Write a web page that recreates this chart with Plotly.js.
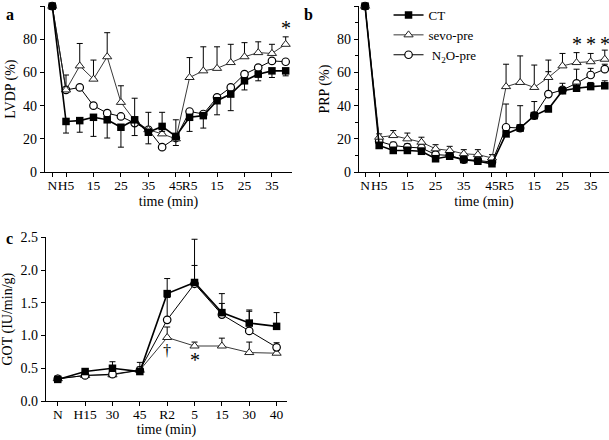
<!DOCTYPE html>
<html>
<head>
<meta charset="utf-8">
<script src="https://cdn.plot.ly/plotly-3.0.1.min.js"></script>
<style>
  html, body { margin: 0; padding: 0; background: #fff; }
  #plot { width: 609px; height: 440px; }
</style>
</head>
<body>
<div id="plot"></div>
<script>
// ---- data ----
// panels a and b: N, H5..H45, R5..R40 (one point every 5 min)
var timeIdx = [0, 1, 2, 3, 4, 5, 6, 7, 8, 9, 10, 11, 12, 13, 14, 15, 16, 17];
var tickPosAB = [0, 1, 3, 5, 7, 9, 10, 12, 14, 16];
var tickTextAB = ['N', 'H5', '15', '25', '35', '45', 'R5', '15', '25', '35'];

// a: LVDP (%)
var ctA = [100, 30.5, 31, 33, 31.5, 27, 31.5, 24, 27.5, 21.5, 33, 34, 43, 47, 55, 59, 61, 61];
var ctAErrDown = [0, 7, 7, 11.5, 11, 12, 9.5, 7, 3, 5.5, 8.5, 7.5, 8.5, 10, 5.5, 4, 4, 3];
var sevoA = [100, 49.5, 64, 56, 69.5, 42, 31, 25.5, 23, 20, 57, 61, 62.5, 66, 69.5, 72, 71.5, 77];
var sevoAErrUp = [0, 9, 13.5, 11.5, 14.5, 10, 13.5, 10.5, 13, 11.5, 12, 14.5, 13, 11, 8.5, 6.5, 5.5, 4.5];
var n2oA = [100, 49.5, 51, 40, 35.5, 33.5, 29.5, 25.5, 15, 20.5, 36.5, 35, 45, 51, 59, 63, 67, 66.5];

// b: PRP (%)
var ctB = [100, 16, 13, 13, 12.5, 8, 9.5, 7.5, 6.5, 5, 23, 26.5, 34, 38, 49, 50.5, 51.5, 52];
var ctBErrUp = [0, 2, 2, 2, 2, 2, 2, 2, 2, 2, 2, 2, 2, 2, 2, 2.5, 2.5, 3];
var sevoB = [100, 21, 22, 20, 18, 14, 13, 11, 10.5, 8.5, 51.5, 54, 51, 57, 64, 66, 66.5, 68];
var sevoBErrUp = [0, 2, 3, 3.5, 3, 2.5, 2.5, 2.5, 3, 2, 13.5, 16, 13.5, 10.5, 7.5, 6, 5, 5.5];
var n2oB = [100, 18.5, 16, 15, 14.5, 10.5, 10, 7.5, 7, 6, 27, 26.5, 34, 47, 49.5, 53.5, 58.5, 62];
var n2oBErrUp = [0, 2, 2, 2, 2, 2, 2, 2, 2, 2, 14, 13.5, 8.5, 13.5, 4, 8.5, 4, 3];

// c: GOT (IU/min/g)
var timeIdxC = [0, 1, 2, 3, 4, 5, 6, 7, 8];
var tickTextC = ['N', 'H15', '30', '45', 'R2', '5', '15', '30', '40'];
var ctC = [0.33, 0.45, 0.50, 0.45, 1.64, 1.81, 1.35, 1.19, 1.14];
var ctCErr = [0.03, 0.04, 0.10, 0.14, 0.23, 0.26, 0.29, 0.20, 0.21];
var sevoC = [0.34, 0.39, 0.40, 0.47, 0.97, 0.84, 0.84, 0.74, 0.73];
var sevoCErr = [0.02, 0.02, 0.03, 0.03, 0.16, 0.06, 0.12, 0.16, 0.05];
var n2oC = [0.34, 0.39, 0.41, 0.47, 1.24, 1.79, 1.32, 1.07, 0.82];
var n2oCErr = [0.02, 0.02, 0.03, 0.05, 0.34, 0.68, 0.17, 0.30, 0.07];

var FONT = 'Liberation Serif';

// styles for the three groups
function ctStyle() {
  return {mode: 'lines+markers', line: {color: '#000', width: 1.6},
          marker: {symbol: 'square', size: 7.5, color: '#000'}};
}
function sevoStyle() {
  return {mode: 'lines+markers', line: {color: '#222', width: 0.9},
          marker: {symbol: 'triangle-up', size: 8, color: '#fff', line: {color: '#222', width: 1}}};
}
function n2oStyle() {
  return {mode: 'lines+markers', line: {color: '#000', width: 1},
          marker: {symbol: 'circle', size: 7.5, color: '#fff', line: {color: '#000', width: 1.2}}};
}
function errBar(up, down) {
  return {type: 'data', symmetric: false, array: up, arrayminus: down,
          color: '#000', thickness: 1, width: 3};
}
function zeros(n) { var z = []; for (var i = 0; i < n; i++) z.push(0); return z; }

function mk(base, extra) {
  var t = Object.assign({}, base);
  for (var k in extra) t[k] = extra[k];
  t.cliponaxis = false;
  return t;
}

var data = [
  // panel a
  mk(n2oStyle(), {x: timeIdx, y: n2oA, xaxis: 'x', yaxis: 'y', showlegend: false}),
  mk(sevoStyle(), {x: timeIdx, y: sevoA, xaxis: 'x', yaxis: 'y', showlegend: false,
    error_y: errBar(sevoAErrUp, zeros(18))}),
  mk(ctStyle(), {x: timeIdx, y: ctA, xaxis: 'x', yaxis: 'y', showlegend: false,
    error_y: errBar(zeros(18), ctAErrDown)}),
  // panel b (carries the legend)
  mk(n2oStyle(), {x: timeIdx, y: n2oB, xaxis: 'x2', yaxis: 'y2', name: ' N<sub>2</sub>O-pre', legendrank: 3,
    error_y: errBar(n2oBErrUp, zeros(18))}),
  mk(sevoStyle(), {x: timeIdx, y: sevoB, xaxis: 'x2', yaxis: 'y2', name: 'sevo-pre', legendrank: 2,
    error_y: errBar(sevoBErrUp, zeros(18))}),
  mk(ctStyle(), {x: timeIdx, y: ctB, xaxis: 'x2', yaxis: 'y2', name: 'CT', legendrank: 1,
    error_y: errBar(ctBErrUp, zeros(18))}),
  // panel c
  mk(sevoStyle(), {x: timeIdxC, y: sevoC, xaxis: 'x3', yaxis: 'y3', showlegend: false,
    error_y: errBar(sevoCErr, zeros(9))}),
  mk(n2oStyle(), {x: timeIdxC, y: n2oC, xaxis: 'x3', yaxis: 'y3', showlegend: false,
    error_y: errBar(n2oCErr, zeros(9))}),
  mk(ctStyle(), {x: timeIdxC, y: ctC, xaxis: 'x3', yaxis: 'y3', showlegend: false,
    error_y: errBar(ctCErr, zeros(9))})
];

function xAx(domain, range, vals, text, anchor, standoff) {
  return {domain: domain, range: range, anchor: anchor, tickmode: 'array', tickvals: vals, ticktext: text,
          tickangle: 0, ticks: 'outside', ticklen: 4, tickwidth: 1, tickcolor: '#000', ticklabelstandoff: -4,
          showline: true, linecolor: '#000', linewidth: 1.3, showgrid: false, zeroline: false,
          tickfont: {family: FONT, size: 13.5, color: '#000'},
          title: {text: 'time (min)', font: {family: FONT, size: 14, color: '#000'}, standoff: standoff}};
}
function yAx(domain, range, dtick, title, anchor, fmt) {
  return {domain: domain, range: range, anchor: anchor, dtick: dtick, tick0: 0,
          ticks: 'outside', ticklen: 4, tickwidth: 1, tickcolor: '#000', tickformat: fmt,
          showline: true, linecolor: '#000', linewidth: 1.3, showgrid: false, zeroline: false,
          tickfont: {family: FONT, size: 14, color: '#000'},
          title: {text: title, font: {family: FONT, size: 14, color: '#000'}, standoff: 4}};
}

var yB = yAx([0.609, 0.986], [0, 100], 20, 'PRP (%)', 'x2');
yB.minor = {dtick: 10, ticks: 'outside', ticklen: 3, tickcolor: '#000'};

var layout = {
  width: 609, height: 440,
  margin: {l: 0, r: 0, t: 0, b: 0},
  paper_bgcolor: '#fff', plot_bgcolor: '#fff',
  font: {family: FONT, color: '#000'},
  showlegend: true,
  legend: {x: 0.638, y: 1.0, xanchor: 'left', yanchor: 'top', bgcolor: 'rgba(0,0,0,0)',
           font: {family: FONT, size: 13, color: '#000'}, itemwidth: 30, tracegroupgap: 0},
  xaxis: xAx([45 / 609, 292 / 609], [-0.53, 17.46], tickPosAB, tickTextAB, 'y', 4),
  yaxis: yAx([0.609, 0.986], [0, 100], 20, 'LVDP (%)', 'x'),
  xaxis2: xAx([359 / 609, 1], [-0.43, 17.3], tickPosAB, tickTextAB, 'y2', 4),
  yaxis2: yB,
  xaxis3: xAx([46 / 609, 287 / 609], [-0.43, 8.38], timeIdxC, tickTextC, 'y3', 0),
  yaxis3: yAx([0.0886, 0.4607], [0, 2.5], 0.5, 'GOT (IU/min/g)', 'x3', '.1f'),
  annotations: [
    {text: '<b>a</b>', xref: 'paper', yref: 'paper', x: 4 / 609, y: 1 - 4 / 440, xanchor: 'left', yanchor: 'top', showarrow: false, font: {family: FONT, size: 16, color: '#000'}},
    {text: '<b>b</b>', xref: 'paper', yref: 'paper', x: 302 / 609, y: 1 - 4 / 440, xanchor: 'left', yanchor: 'top', showarrow: false, font: {family: FONT, size: 16, color: '#000'}},
    {text: '<b>c</b>', xref: 'paper', yref: 'paper', x: 4 / 609, y: 1 - 228 / 440, xanchor: 'left', yanchor: 'top', showarrow: false, font: {family: FONT, size: 16, color: '#000'}},
    {text: '*', xref: 'x', yref: 'y', x: 17, y: 87, showarrow: false, font: {family: FONT, size: 20, color: '#000'}},
    {text: '*', xref: 'x2', yref: 'y2', x: 15, y: 77, showarrow: false, font: {family: FONT, size: 20, color: '#000'}},
    {text: '*', xref: 'x2', yref: 'y2', x: 16, y: 77, showarrow: false, font: {family: FONT, size: 20, color: '#000'}},
    {text: '*', xref: 'x2', yref: 'y2', x: 17, y: 77, showarrow: false, font: {family: FONT, size: 20, color: '#000'}},
    {text: '†', xref: 'x3', yref: 'y3', x: 4, y: 0.77, showarrow: false, font: {family: FONT, size: 16, color: '#000'}},
    {text: '*', xref: 'x3', yref: 'y3', x: 5, y: 0.62, showarrow: false, font: {family: FONT, size: 20, color: '#000'}}
  ]
};

Plotly.newPlot('plot', data, layout, {staticPlot: true, displayModeBar: false});
</script>
</body>
</html>
